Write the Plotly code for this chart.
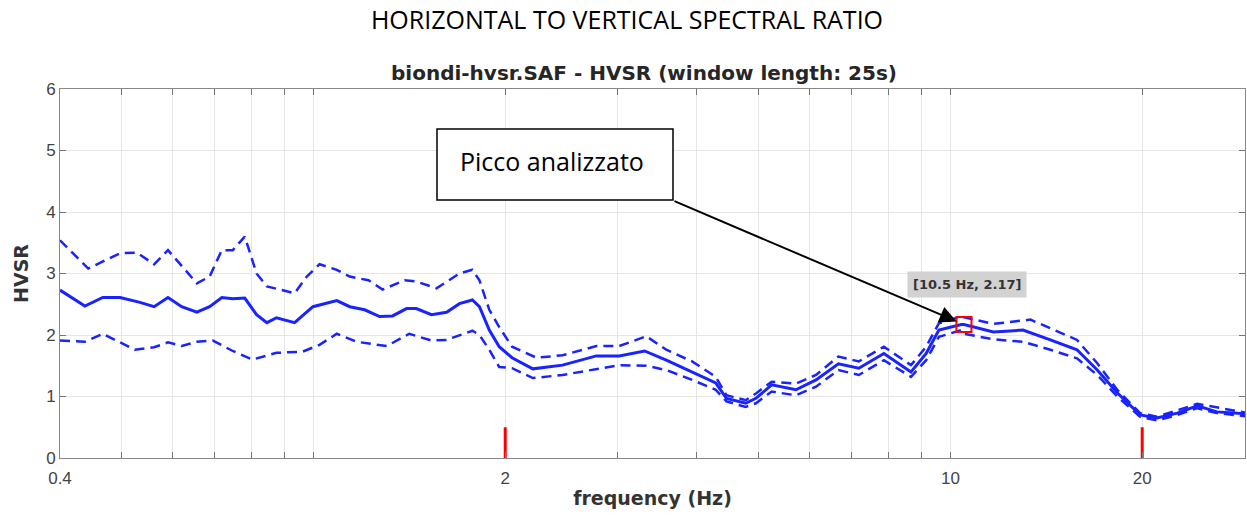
import plotly.graph_objects as go
import math

# Mean HVSR curve
freq_mean = [0.4, 0.4376, 0.467, 0.497, 0.534, 0.562, 0.591, 0.621, 0.656, 0.687, 0.718, 0.747, 0.780,
             0.814, 0.845, 0.875, 0.934, 0.998, 1.088, 1.14, 1.203, 1.27, 1.331, 1.40, 1.45, 1.532, 1.618,
             1.695, 1.776, 1.822, 1.888, 1.957, 2.05, 2.21, 2.46, 2.78, 3.02, 3.31, 3.58, 3.93, 4.28, 4.45,
             4.77, 4.95, 5.24, 5.72, 6.15, 6.67, 7.18, 7.86, 8.67, 9.16, 9.59, 10.4, 10.5, 11.68, 13.0,
             14.35, 15.8, 17.0, 18.27, 19.85, 21.1, 22.7, 24.4, 26.2, 29.0]
hvsr_mean = [2.73, 2.47, 2.61, 2.61, 2.53, 2.46, 2.61, 2.46, 2.37, 2.46, 2.61, 2.59, 2.60,
             2.33, 2.20, 2.28, 2.20, 2.46, 2.56, 2.46, 2.41, 2.30, 2.31, 2.43, 2.43, 2.33, 2.37,
             2.51, 2.57, 2.46, 2.08, 1.81, 1.63, 1.45, 1.51, 1.66, 1.66, 1.74, 1.59, 1.40, 1.22, 0.97,
             0.89, 0.97, 1.19, 1.11, 1.27, 1.53, 1.46, 1.70, 1.40, 1.70, 2.08, 2.17, 2.17, 2.05, 2.08,
             1.92, 1.76, 1.43, 1.06, 0.70, 0.65, 0.73, 0.85, 0.75, 0.72]

# Upper bound (mean + std)
freq_upper = [0.4, 0.443, 0.497, 0.528, 0.562, 0.591, 0.656, 0.687, 0.718, 0.747, 0.780, 0.814, 0.845,
              0.934, 0.976, 1.022, 1.088, 1.14, 1.22, 1.284, 1.39, 1.45, 1.56, 1.695, 1.776, 1.822,
              1.888, 1.957, 2.05, 2.24, 2.46, 2.78, 3.02, 3.33, 3.58, 3.93, 4.28, 4.45, 4.77, 4.95, 5.24,
              5.72, 6.15, 6.67, 7.18, 7.86, 8.67, 9.16, 9.59, 10.4, 11.68, 13.35, 14.35, 15.8, 17.0,
              18.27, 19.85, 21.1, 24.4, 29.0]
hvsr_upper = [3.54, 3.08, 3.33, 3.34, 3.15, 3.38, 2.84, 2.95, 3.38, 3.38, 3.60, 3.00, 2.79,
              2.68, 2.95, 3.15, 3.06, 2.95, 2.89, 2.74, 2.89, 2.87, 2.76, 3.00, 3.06, 2.89,
              2.41, 2.13, 1.81, 1.63, 1.67, 1.82, 1.82, 1.98, 1.76, 1.57, 1.32, 1.02, 0.94, 1.05, 1.24,
              1.21, 1.35, 1.65, 1.57, 1.81, 1.51, 1.81, 2.19, 2.30, 2.18, 2.25, 2.11, 1.92, 1.54,
              1.11, 0.73, 0.67, 0.88, 0.74]

# Lower bound (mean - std)
freq_lower = [0.4, 0.4376, 0.467, 0.524, 0.562, 0.591, 0.621, 0.656, 0.695, 0.747, 0.802, 0.875, 0.962,
              1.022, 1.088, 1.169, 1.303, 1.414, 1.532, 1.618, 1.776, 1.822, 1.888, 1.957, 2.05, 2.21,
              2.46, 2.78, 3.02, 3.33, 3.58, 3.93, 4.28, 4.45, 4.77, 4.95, 5.24, 5.72, 6.15, 6.67, 7.18,
              7.86, 8.67, 9.16, 9.59, 10.4, 10.5, 11.68, 13.0, 14.35, 15.8, 17.0, 18.27, 19.85, 21.1,
              22.7, 24.4, 26.2, 29.0]
hvsr_lower = [1.91, 1.89, 2.02, 1.76, 1.80, 1.88, 1.82, 1.89, 1.91, 1.74, 1.60, 1.71, 1.73,
              1.84, 2.02, 1.89, 1.82, 2.02, 1.91, 1.92, 2.07, 2.00, 1.76, 1.48, 1.46, 1.30,
              1.35, 1.44, 1.51, 1.50, 1.43, 1.27, 1.11, 0.92, 0.83, 0.89, 1.08, 1.02, 1.16, 1.43, 1.35,
              1.59, 1.32, 1.59, 1.97, 2.08, 2.02, 1.93, 1.89, 1.76, 1.62, 1.35, 1.00, 0.67, 0.61,
              0.70, 0.81, 0.73, 0.68]

# Frequency limits (red markers)
limit_freqs = [2, 20]
limit_height = 0.5

# Picked peak
peak_freq = 10.5
peak_hvsr = 2.17

x_tickvals = [0.4, 2, 10, 20]
x_ticktext = ["0.4", "2", "10", "20"]
x_minor = [0.5, 0.6, 0.7, 0.8, 0.9, 1, 3, 4, 5, 6, 7, 8, 9]
x_range = [0.4, 29.0]
y_range = [0, 6]

BLUE = "rgb(25,35,255)"
AX = "Liberation Sans, Arial, sans-serif"
BOLD = "DejaVu Sans, sans-serif"

W, H = 1247, 515
ML, MR, MT, MB = 60, 2, 89, 57
PW, PH = W - ML - MR, H - MT - MB


def px_x(p):
    return (p - ML) / PW


def px_y(p):
    return (H - MB - p) / PH


fig = go.Figure()
fig.add_trace(go.Scatter(x=freq_upper, y=hvsr_upper, mode="lines",
                         line=dict(color=BLUE, width=2.5, dash="10px,6px"), hoverinfo="skip"))
fig.add_trace(go.Scatter(x=freq_lower, y=hvsr_lower, mode="lines",
                         line=dict(color=BLUE, width=2.5, dash="10px,6px"), hoverinfo="skip"))
fig.add_trace(go.Scatter(x=freq_mean, y=hvsr_mean, mode="lines",
                         line=dict(color=BLUE, width=3)))
for f in limit_freqs:
    fig.add_trace(go.Scatter(x=[f, f], y=[0, limit_height], mode="lines",
                             line=dict(color="rgb(255,0,0)", width=3)))
fig.add_trace(go.Scatter(x=[peak_freq], y=[peak_hvsr], mode="markers",
                         marker=dict(symbol="square-open", size=15, color="rgb(255,0,0)",
                                     line=dict(width=2, color="rgb(255,0,0)"))))

lx = math.log10(peak_freq)

fig.add_shape(type="rect", xref="paper", yref="paper",
              x0=px_x(437), x1=px_x(673), y0=px_y(200), y1=px_y(129),
              line=dict(color="black", width=1.5), fillcolor="white", layer="above")

fig.update_layout(
    width=W, height=H,
    margin=dict(l=ML, r=MR, t=MT, b=MB),
    paper_bgcolor="white", plot_bgcolor="white",
    showlegend=False,
    title=dict(text="HORIZONTAL TO VERTICAL SPECTRAL RATIO", x=627 / W, xanchor="center",
               xref="container", y=1 - 20 / H, yanchor="middle", yref="container",
               font=dict(family="Open Sans, sans-serif", size=25, color="black")),
    xaxis=dict(type="log", range=[math.log10(x_range[0]), math.log10(x_range[1])],
               tickmode="array", tickvals=x_tickvals, ticktext=x_ticktext,
               ticks="inside", ticklen=6, tickcolor="#777", showgrid=True, gridcolor="#e6e6e6",
               minor=dict(tickmode="array", tickvals=x_minor, ticks="inside", ticklen=6,
                          tickcolor="#777", showgrid=True, gridcolor="#e6e6e6"),
               showline=True, linecolor="#888", linewidth=1, mirror="ticks", zeroline=False,
               ticklabelstandoff=5,
               tickfont=dict(family=AX, size=17, color="#444"),
               title=dict(text="<b>frequency (Hz)</b>", standoff=4,
                          font=dict(family=BOLD, size=19, color="#333"))),
    yaxis=dict(range=y_range, tickvals=[0, 1, 2, 3, 4, 5, 6], ticks="inside", ticklen=6,
               tickcolor="#777", showgrid=True, gridcolor="#e6e6e6", zeroline=False,
               showline=True, linecolor="#888", linewidth=1, mirror="ticks",
               tickfont=dict(family=AX, size=17, color="#444"),
               title=dict(text="<b>HVSR</b>", standoff=12,
                          font=dict(family=BOLD, size=19, color="#333"))),
    annotations=[
        dict(text="<b>biondi-hvsr.SAF - HVSR (window length: 25s)</b>", xref="paper",
             yref="paper", x=px_x(644), y=px_y(73), yanchor="middle", xanchor="center",
             showarrow=False, font=dict(family=BOLD, size=20, color="#262626")),
        dict(text="Picco analizzato", xref="paper", yref="paper",
             x=px_x(458), y=px_y(161), xanchor="left", yanchor="middle", showarrow=False,
             font=dict(family="Open Sans, sans-serif", size=25, color="black")),
        dict(text="<b>[10.5 Hz, 2.17]</b>", x=lx, y=peak_hvsr, xref="x", yref="y",
             showarrow=False, yshift=40, xshift=3, bgcolor="#d2d2d2",
             font=dict(family=BOLD, size=13, color="#333"), borderpad=5),
        dict(x=lx, y=peak_hvsr, xref="x", yref="y", ax=-291, ay=-124, axref="pixel", ayref="pixel",
             showarrow=True, arrowhead=2, arrowsize=1.7, arrowwidth=2, arrowcolor="black",
             text="", standoff=8),
    ],
)
fig.write_html("out.html")
